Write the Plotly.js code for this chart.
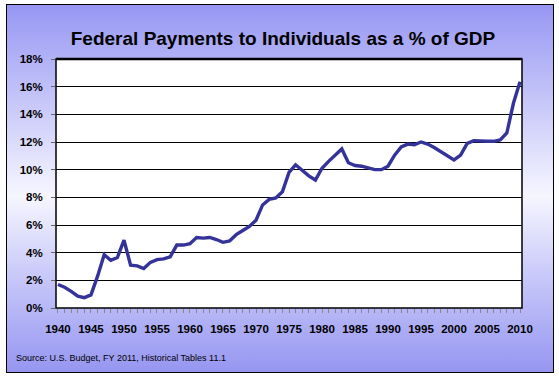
<!DOCTYPE html>
<html>
<head>
<meta charset="utf-8">
<script src="https://cdn.plot.ly/plotly-3.0.1.min.js"></script>
<style>
  html, body { margin: 0; padding: 0; background: #ffffff; }
  #wrap { position: relative; width: 559px; height: 381px; }
  #box { position: absolute; left: 6px; top: 4px; width: 546px; height: 367px;
         border: 1px solid #000;
         background: linear-gradient(to bottom, #9797f3 0%, #c4c4f9 25%, #f6f6ff 52%, #c4c4f9 76%, #9696f1 100%); }
  #chart { position: absolute; left: 0; top: 0; width: 559px; height: 381px; }
</style>
</head>
<body>
<div id="wrap">
  <div id="box"></div>
  <div id="chart"></div>
</div>
<script>
const years = [1940,1941,1942,1943,1944,1945,1946,1947,1948,1949,
  1950,1951,1952,1953,1954,1955,1956,1957,1958,1959,
  1960,1961,1962,1963,1964,1965,1966,1967,1968,1969,
  1970,1971,1972,1973,1974,1975,1976,1977,1978,1979,
  1980,1981,1982,1983,1984,1985,1986,1987,1988,1989,
  1990,1991,1992,1993,1994,1995,1996,1997,1998,1999,
  2000,2001,2002,2003,2004,2005,2006,2007,2008,2009,2010];
const paymentsPctGDP = [1.7,1.5,1.2,0.85,0.75,0.95,2.3,3.85,3.45,3.65,
  4.9,3.1,3.05,2.85,3.3,3.5,3.55,3.7,4.55,4.55,
  4.65,5.1,5.05,5.1,4.95,4.75,4.85,5.3,5.6,5.9,
  6.35,7.45,7.85,7.95,8.4,9.8,10.35,9.95,9.55,9.25,
  10.1,10.6,11.05,11.5,10.5,10.3,10.25,10.1,10.0,10.0,
  10.25,11.05,11.65,11.85,11.8,12.0,11.85,11.6,11.3,10.95,
  10.7,11.05,11.9,12.1,12.05,12.05,12.05,12.15,12.65,14.8,16.35];
const xTickVals = [1940,1945,1950,1955,1960,1965,1970,1975,1980,1985,1990,1995,2000,2005,2010];
const yTickVals = [0,2,4,6,8,10,12,14,16,18];
const titleText = "Federal Payments to Individuals as a % of GDP";
const sourceText = "Source: U.S. Budget, FY 2011, Historical Tables 11.1";

const trace = {
  x: years, y: paymentsPctGDP, type: 'scatter', mode: 'lines',
  line: { color: '#333399', width: 3.4, shape: 'linear' },
  hoverinfo: 'skip'
};

const layout = {
  width: 559, height: 381,
  paper_bgcolor: 'rgba(0,0,0,0)', plot_bgcolor: '#ffffff',
  margin: { l: 56, r: 37, t: 59, b: 73, pad: 0 },
  showlegend: false,
  font: { family: 'Arial, "Liberation Sans", sans-serif', color: '#000' },
  title: {
    text: '<b>' + titleText + '</b>',
    font: { size: 19, family: 'Arial, "Liberation Sans", sans-serif', color: '#000' },
    xref: 'container', x: 283/559, xanchor: 'center',
    yref: 'container', y: 1 - 38/381, yanchor: 'middle'
  },
  xaxis: {
    range: [1939.7, 2010.3],
    tickvals: xTickVals, ticktext: xTickVals.map(String),
    ticks: 'outside', ticklen: 4, tickcolor: '#888', tickwidth: 1,
    minor: { dtick: 1, tick0: 1940, ticks: 'outside', ticklen: 4, tickcolor: '#888', tickwidth: 1, showgrid: false },
    showgrid: false, zeroline: false,
    showline: false,
    tickfont: { size: 11.5, family: 'Arial, "Liberation Sans", sans-serif', color: '#000', weight: 'bold' },
    ticklabelstandoff: 6
  },
  yaxis: {
    range: [0, 18],
    tickvals: yTickVals, ticktext: yTickVals.map(v => v + '%'),
    ticks: 'outside', ticklen: 4, tickcolor: '#666', tickwidth: 1,
    showgrid: true, gridcolor: '#000', gridwidth: 1,
    zeroline: false, showline: false,
    tickfont: { size: 11.5, family: 'Arial, "Liberation Sans", sans-serif', color: '#000', weight: 'bold' },
    ticklabelstandoff: 6
  },
  shapes: [
    { type: 'rect', xref: 'paper', yref: 'paper', x0: 0, x1: 1, y0: 0, y1: 1,
      line: { color: '#000', width: 1.5 }, fillcolor: 'rgba(0,0,0,0)', layer: 'above' },
    { type: 'line', xref: 'paper', yref: 'paper', x0: 0, x1: 1, y0: 1, y1: 1,
      line: { color: '#000', width: 2.5 }, layer: 'above' }
  ],
  annotations: [
    { text: sourceText, xref: 'paper', yref: 'paper',
      x: (14 - 56) / 466, y: -(358 - 308) / 249, xanchor: 'left', yanchor: 'middle',
      showarrow: false,
      font: { size: 9, family: 'Arial, "Liberation Sans", sans-serif', color: '#000' } }
  ]
};

Plotly.newPlot('chart', [trace], layout, { staticPlot: true, displayModeBar: false });
</script>
</body>
</html>
